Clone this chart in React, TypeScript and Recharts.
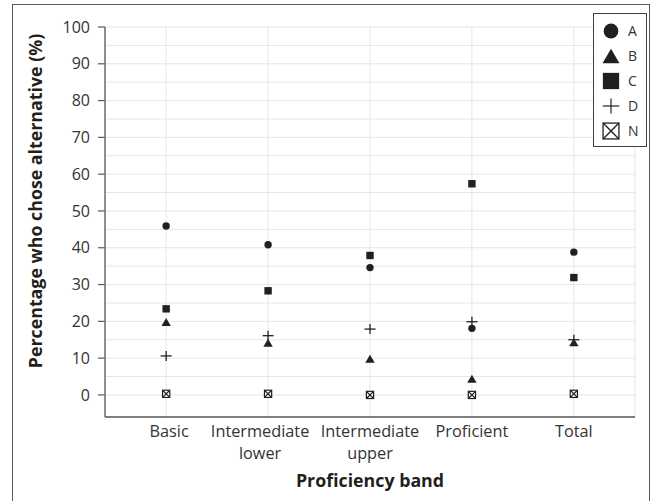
import React from 'react';
import { ScatterChart, Scatter, XAxis, YAxis, CartesianGrid, Legend } from 'recharts';

const categories = ['Basic', 'Intermediate\nlower', 'Intermediate\nupper', 'Proficient', 'Total'];
const categoryPositions = [1, 2, 3, 4, 5];
const seriesA = [45.9, 40.8, 34.6, 18.1, 38.8];
const seriesB = [19.8, 14.2, 9.8, 4.4, 14.3];
const seriesC = [23.4, 28.3, 37.9, 57.4, 31.9];
const seriesD = [10.6, 16.1, 17.9, 19.9, 15.0];
const seriesN = [0.3, 0.3, 0.0, 0.0, 0.3];
const yTicks = [0, 5, 10, 15, 20, 25, 30, 35, 40, 45, 50, 55, 60, 65, 70, 75, 80, 85, 90, 95, 100];
const legendNames = ['A', 'B', 'C', 'D', 'N'];

const ink = '#231f20';
const axisColor = '#595959';
const textColor = '#333333';
const font = '"Open Sans", sans-serif';
// small horizontal nudges of the category labels, as in the original layout
const labelNudge = [3, -8, 0, 0, 0];

const toPoints = (vals: number[]) => vals.map((v, i) => ({ x: categoryPositions[i], y: v }));

const CircleMark = ({ cx, cy, s = 1 }: any) => <circle cx={cx} cy={cy} r={3.7 * s} fill={ink} />;
const TriangleMark = ({ cx, cy, s = 1 }: any) => (
  <polygon
    points={`${cx - 4.7 * s},${cy + 4 * s} ${cx + 4.7 * s},${cy + 4 * s} ${cx},${cy - 4 * s}`}
    fill={ink}
  />
);
const SquareMark = ({ cx, cy, s = 1 }: any) => (
  <rect x={cx - 3.7 * s} y={cy - 3.7 * s} width={7.4 * s} height={7.4 * s} fill={ink} />
);
const CrossMark = ({ cx, cy, s = 1, w = 1.3 }: any) => (
  <g stroke={ink} strokeWidth={w}>
    <line x1={cx - 5.5 * s} x2={cx + 5.5 * s} y1={cy} y2={cy} />
    <line x1={cx} x2={cx} y1={cy - 5 * s} y2={cy + 5 * s} />
  </g>
);
const BoxXMark = ({ cx, cy, s = 1, w = 1.2 }: any) => (
  <g stroke={ink} strokeWidth={w} fill="#fff">
    <rect x={cx - 3.6 * s} y={cy - 3.6 * s} width={7.2 * s} height={7.2 * s} />
    <line x1={cx - 3.6 * s} y1={cy - 3.6 * s} x2={cx + 3.6 * s} y2={cy + 3.6 * s} />
    <line x1={cx - 3.6 * s} y1={cy + 3.6 * s} x2={cx + 3.6 * s} y2={cy - 3.6 * s} />
  </g>
);

const YTick = (props: any) => {
  const { x, y, payload } = props;
  if (payload.value % 10 !== 0) return <g />;
  return (
    <g>
      <line x1={x + 8} x2={x + 15} y1={y} y2={y} stroke={axisColor} strokeWidth={1.2} />
      <text x={x} y={y} dy={5.7} textAnchor="end" fontFamily={font} fontSize={16} fill={textColor}>
        {payload.value}
      </text>
    </g>
  );
};

const XTick = (props: any) => {
  const { x, y, payload } = props;
  const idx = categoryPositions.indexOf(payload.value);
  const lines = idx >= 0 ? categories[idx].split('\n') : [];
  const tx = x + (idx >= 0 ? labelNudge[idx] : 0);
  return (
    <text x={tx} y={y} textAnchor="middle" fontFamily={font} fontSize={16.3} fill={textColor}>
      {lines.map((l, i) => (
        <tspan key={i} x={tx} dy={i === 0 ? 19.7 : 22.3}>
          {l}
        </tspan>
      ))}
    </text>
  );
};

const LegendContent = () => {
  const icons = [
    (cy: number) => <CircleMark cx={18} cy={cy} s={2} />,
    (cy: number) => <TriangleMark cx={18} cy={cy} s={1.8} />,
    (cy: number) => <SquareMark cx={18} cy={cy} s={2.2} />,
    (cy: number) => <CrossMark cx={18} cy={cy} s={1.5} w={1.2} />,
    (cy: number) => <BoxXMark cx={18} cy={cy} s={2.2} w={1.3} />,
  ];
  return (
    <svg width={54} height={134} style={{ display: 'block' }}>
      <rect x={0.5} y={0.5} width={53} height={133} fill="#fff" stroke="#404040" strokeWidth={1} />
      {legendNames.map((n, i) => {
        const cy = 18 + i * 25;
        return (
          <g key={n}>
            {icons[i](cy)}
            <text x={35} y={cy} dy={5} fontFamily={font} fontSize={14} fill={textColor}>
              {n}
            </text>
          </g>
        );
      })}
    </svg>
  );
};

export default function App() {
  return (
    <div style={{ position: 'absolute', left: 0, top: 0, width: 660, height: 501, background: '#fff', overflow: 'hidden' }}>
      <div
        style={{
          position: 'absolute',
          left: 12,
          top: 4,
          width: 638,
          height: 497,
          borderLeft: '1.3px solid #5a5a5a',
          borderTop: '1.3px solid #5a5a5a',
          borderRight: '1.3px solid #5a5a5a',
          boxSizing: 'border-box',
        }}
      />
      <div style={{ position: 'absolute', left: 0, top: 0 }}>
        <ScatterChart width={660} height={501} margin={{ top: 27, right: 25, bottom: 0, left: 0 }}>
          <CartesianGrid stroke="#e6e6e6" strokeWidth={1} />
          <XAxis
            type="number"
            dataKey="x"
            domain={[0.4, 5.6]}
            ticks={categoryPositions}
            interval={0}
            tickLine={false}
            tickSize={0}
            tickMargin={0}
            height={84}
            axisLine={{ stroke: axisColor, strokeWidth: 1.3 }}
            tick={<XTick />}
            label={(p: any) => {
              const vb = p.viewBox;
              return (
                <text
                  x={vb.x + vb.width / 2}
                  y={487}
                  textAnchor="middle"
                  fontFamily={font}
                  fontWeight="bold"
                  fontSize={17.8}
                  fill={ink}
                >
                  Proficiency band
                </text>
              );
            }}
          />
          <YAxis
            type="number"
            dataKey="y"
            domain={[-6, 100]}
            ticks={yTicks}
            interval={0}
            tickLine={false}
            tickSize={0}
            tickMargin={15}
            width={105}
            axisLine={{ stroke: axisColor, strokeWidth: 1.3 }}
            tick={<YTick />}
            label={() => (
              <text
                x={42}
                y={201}
                transform="rotate(-90, 42, 201)"
                textAnchor="middle"
                fontFamily={font}
                fontWeight="bold"
                fontSize={17.8}
                fill={ink}
              >
                Percentage who chose alternative (%)
              </text>
            )}
          />
          <Legend
            layout="vertical"
            align="center"
            verticalAlign="middle"
            wrapperStyle={{ position: 'absolute', left: 593, top: 13, width: 54, height: 134 }}
            content={<LegendContent />}
          />
          <Scatter name="N" data={toPoints(seriesN)} isAnimationActive={false} shape={(p: any) => <BoxXMark cx={p.cx} cy={p.cy} />} />
          <Scatter name="D" data={toPoints(seriesD)} isAnimationActive={false} shape={(p: any) => <CrossMark cx={p.cx} cy={p.cy} />} />
          <Scatter name="B" data={toPoints(seriesB)} isAnimationActive={false} shape={(p: any) => <TriangleMark cx={p.cx} cy={p.cy} />} />
          <Scatter name="C" data={toPoints(seriesC)} isAnimationActive={false} shape={(p: any) => <SquareMark cx={p.cx} cy={p.cy} />} />
          <Scatter name="A" data={toPoints(seriesA)} isAnimationActive={false} shape={(p: any) => <CircleMark cx={p.cx} cy={p.cy} />} />
        </ScatterChart>
      </div>
    </div>
  );
}
